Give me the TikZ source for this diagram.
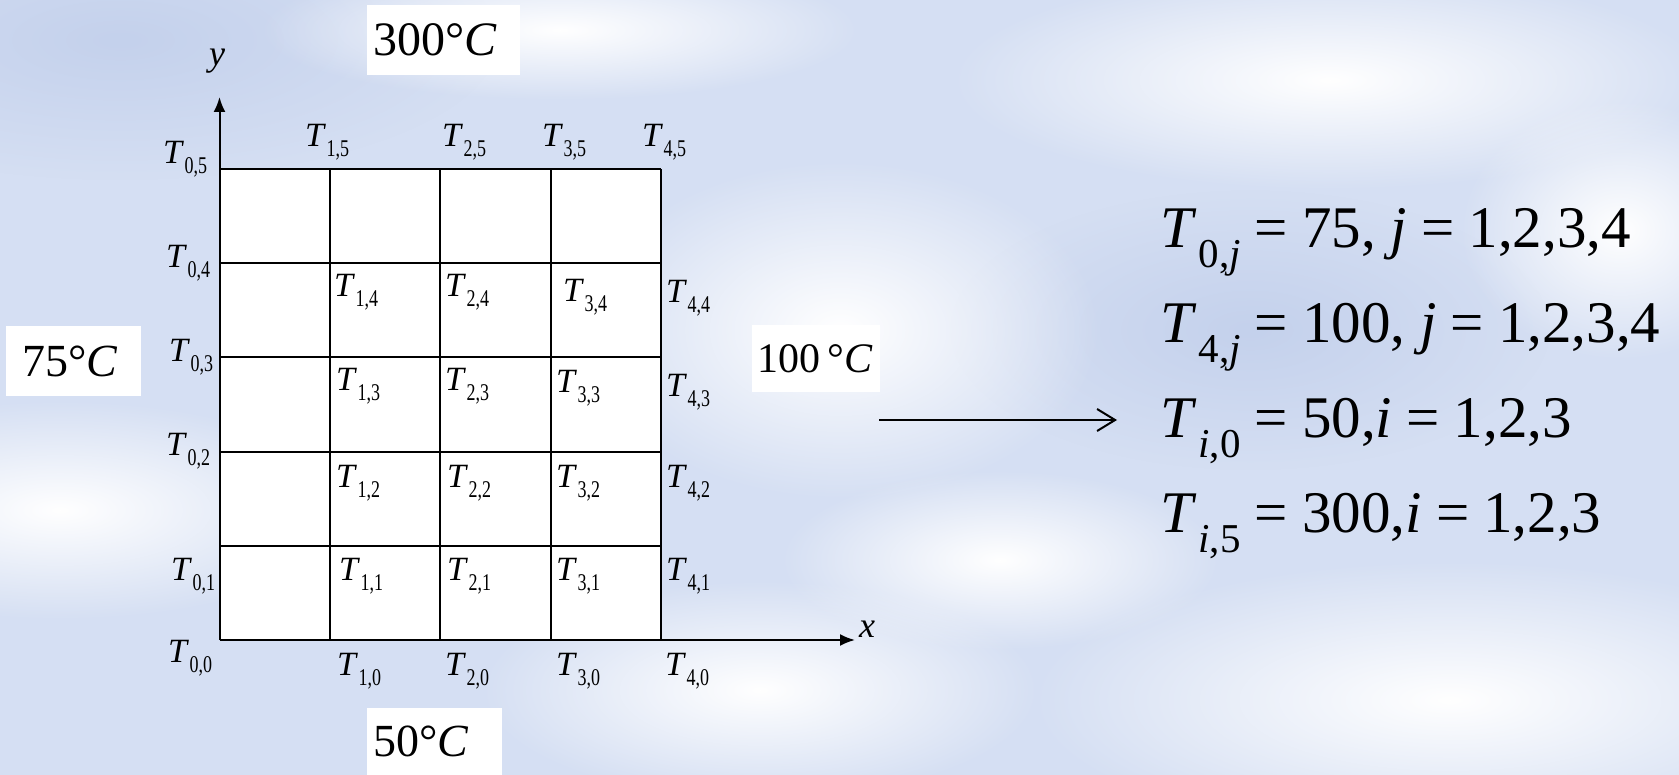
\documentclass[tikz,border=0pt]{standalone}
\usepackage{fontspec}
\usepackage{xcolor}
\setmainfont{Liberation Serif}
\newfontfamily\subfont{Liberation Serif}[FakeStretch=0.75]
\usetikzlibrary{arrows.meta, fadings}

\definecolor{skyblue}{RGB}{213,223,243}
\definecolor{deepsky}{RGB}{196,209,236}
\tikzfading[name=softblob, inner color=transparent!0, outer color=transparent!100]

% grid point label and boundary equation label
\newcommand{\Tg}[1]{\textit{T}\kern0.5pt\raisebox{-10pt}{\fontsize{24}{24}\subfont #1}}
\newcommand{\Te}[1]{\textit{T}\kern2pt\raisebox{-20pt}{\fontsize{41}{41}\selectfont #1}}
\newcommand{\eqsign}{\hspace{0.24em}=\hspace{0.24em}}

\begin{document}
\begin{tikzpicture}[x=1pt, y=-1pt,
    gridline/.style={black, line width=2pt},
    axis/.style={black, line width=2pt, -{Latex[length=15pt,width=12pt]}},
    conn/.style={black, line width=2pt, -{Straight Barb[length=18pt,width=22pt,line width=2pt]}},
    cloud/.style={path fading=softblob},
    lbl/.style={font=\fontsize{34}{34}\selectfont, inner sep=0pt, anchor=base west},
    axlbl/.style={font=\fontsize{36}{36}\selectfont, inner sep=0pt},
    tbox/.style={fill=white, inner ysep=0pt, inner xsep=6pt, anchor=north west, align=left},
    eqn/.style={font=\fontsize{59}{59}\selectfont, inner sep=0pt, anchor=base west}]
    \useasboundingbox (0,0) rectangle (1679,775);

    % Sky background
    \begin{scope}
        \clip (0,0) rectangle (1679,775);
        \fill[skyblue] (0,0) rectangle (1679,775);
        \fill[deepsky, cloud] (120,40) ellipse (380 and 140);
        \fill[deepsky, cloud] (1250,330) ellipse (300 and 140);
        \fill[white, cloud] (60,510) ellipse (300 and 110);
        \fill[white, cloud] (840,330) ellipse (260 and 170);
        \fill[white, cloud] (1330,80) ellipse (380 and 110);
        \fill[white, cloud] (1620,230) ellipse (160 and 130);
        \fill[white, cloud] (1450,700) ellipse (420 and 140);
        \fill[white, cloud] (760,690) ellipse (280 and 110);
        \fill[white, cloud] (1000,560) ellipse (220 and 90);
        \fill[white, cloud] (560,30) ellipse (300 and 70);
    \end{scope}

    % Plate
    \fill[white] (219.5,169) rectangle (660.5,640);

    % Grid lines
    \draw[gridline] (219.5,169) -- (660.5,169);
    \draw[gridline] (219.5,263.5) -- (660.5,263.5);
    \draw[gridline] (219.5,357.5) -- (660.5,357.5);
    \draw[gridline] (219.5,452) -- (660.5,452);
    \draw[gridline] (219.5,546) -- (660.5,546);
    \draw[gridline] (330,169) -- (330,640);
    \draw[gridline] (440,169) -- (440,640);
    \draw[gridline] (550.5,169) -- (550.5,640);
    \draw[gridline] (660.5,169) -- (660.5,640);

    % Axes
    \coordinate (orig) at (219.5,640);
    \coordinate (ytip) at (219.5,97);
    \coordinate (xtip) at (855,640);
    \draw[axis] (orig) -- (ytip);
    \draw[axis] (orig) -- (xtip);
    \node[axlbl] (ylab) at (217,61) {\textit{y}};
    \node[axlbl] (xlab) at (867,629) {\textit{x}};

    % Grid point labels
    \node[lbl] (t05) at (163,164) {\Tg{0,5}};
    \node[lbl] (t15) at (305,147) {\Tg{1,5}};
    \node[lbl] (t25) at (442,147) {\Tg{2,5}};
    \node[lbl] (t35) at (542,147) {\Tg{3,5}};
    \node[lbl] (t45) at (642,147) {\Tg{4,5}};

    \node[lbl] (t04) at (166,268) {\Tg{0,4}};
    \node[lbl] (t14) at (334,297) {\Tg{1,4}};
    \node[lbl] (t24) at (445,297) {\Tg{2,4}};
    \node[lbl] (t34) at (563,302) {\Tg{3,4}};
    \node[lbl] (t44) at (666,303) {\Tg{4,4}};

    \node[lbl] (t03) at (169,362) {\Tg{0,3}};
    \node[lbl] (t13) at (336,391) {\Tg{1,3}};
    \node[lbl] (t23) at (445,391) {\Tg{2,3}};
    \node[lbl] (t33) at (556,393) {\Tg{3,3}};
    \node[lbl] (t43) at (666,397) {\Tg{4,3}};

    \node[lbl] (t02) at (166,455) {\Tg{0,2}};
    \node[lbl] (t12) at (336,487) {\Tg{1,2}};
    \node[lbl] (t22) at (447,487) {\Tg{2,2}};
    \node[lbl] (t32) at (556,487) {\Tg{3,2}};
    \node[lbl] (t42) at (666,487) {\Tg{4,2}};

    \node[lbl] (t01) at (171,580) {\Tg{0,1}};
    \node[lbl] (t11) at (339,580) {\Tg{1,1}};
    \node[lbl] (t21) at (447,580) {\Tg{2,1}};
    \node[lbl] (t31) at (556,580) {\Tg{3,1}};
    \node[lbl] (t41) at (666,580) {\Tg{4,1}};

    \node[lbl] (t00) at (168,662) {\Tg{0,0}};
    \node[lbl] (t10) at (337,675) {\Tg{1,0}};
    \node[lbl] (t20) at (445,675) {\Tg{2,0}};
    \node[lbl] (t30) at (556,675) {\Tg{3,0}};
    \node[lbl] (t40) at (665,675) {\Tg{4,0}};

    % Boundary temperatures
    \node[tbox, font=\fontsize{48}{48}\selectfont, text width=141pt, minimum height=70pt] (top) at (367,5) {300°\textit{C}};
    \node[tbox, font=\fontsize{46}{46}\selectfont, inner xsep=16pt, text width=103pt, minimum height=70pt] (left) at (6,326) {75°\textit{C}};
    \node[tbox, font=\fontsize{42}{42}\selectfont, inner xsep=5pt, text width=118pt, minimum height=67pt] (right) at (752,325) {100\,°\textit{C}};
    \node[tbox, font=\fontsize{46}{46}\selectfont, text width=123pt, minimum height=67pt] (bottom) at (367,708) {50°\textit{C}};

    % Boundary conditions
    \node[eqn] (eq1) at (1160,248) {\Te{0,\textit{j}}\eqsign 75, \textit{j}\eqsign 1,2,3,4};
    \node[eqn] (eq2) at (1160,343) {\Te{4,\textit{j}}\eqsign 100, \textit{j}\eqsign 1,2,3,4};
    \node[eqn] (eq3) at (1160,438) {\Te{\textit{i},0}\eqsign 50,\textit{i}\eqsign 1,2,3};
    \node[eqn] (eq4) at (1160,532) {\Te{\textit{i},5}\eqsign 300,\textit{i}\eqsign 1,2,3};

    \coordinate (arrS) at (879,420);
    \coordinate (arrE) at (1117,420);
    \draw[conn] (arrS) -- (arrE);
\end{tikzpicture}
\end{document}
